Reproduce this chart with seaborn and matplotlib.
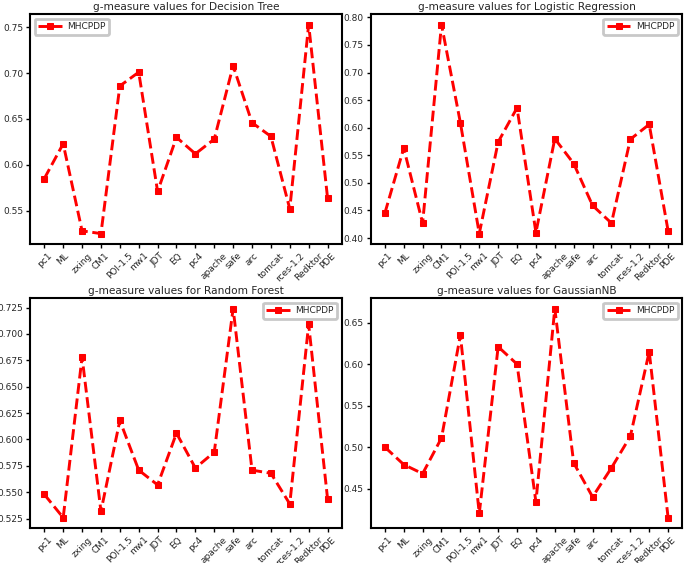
import matplotlib.pyplot as plt
import pandas as pd
import seaborn as sns

# Projects on the x-axis
projects = ['pc1', 'ML', 'zxing', 'CM1', 'POI-1.5', 'mw1', 'JDT', 'EQ', 'pc4',
            'apache', 'safe', 'arc', 'tomcat', 'rces-1.2', 'Redktor', 'PDE']

# g-measure values
dt_vals = [0.585, 0.623, 0.528, 0.525, 0.686, 0.701, 0.571, 0.630, 0.612,
           0.628, 0.708, 0.646, 0.631, 0.552, 0.753, 0.564]
lr_vals = [0.445, 0.563, 0.427, 0.787, 0.609, 0.408, 0.574, 0.636, 0.410,
           0.580, 0.535, 0.459, 0.427, 0.579, 0.606, 0.413]
rf_vals = [0.548, 0.526, 0.678, 0.532, 0.618, 0.571, 0.557, 0.606, 0.573,
           0.588, 0.724, 0.571, 0.568, 0.539, 0.709, 0.544]
nb_vals = [0.500, 0.479, 0.468, 0.511, 0.635, 0.420, 0.621, 0.600, 0.434,
           0.667, 0.481, 0.440, 0.475, 0.513, 0.615, 0.415]

classifiers = ['Decision Tree', 'Logistic Regression', 'Random Forest', 'GaussianNB']
legend_locs = ['upper left', 'upper right', 'upper right', 'upper right']

sns.set_style('ticks')
plt.rcParams['font.family'] = ['DejaVu Sans']

fig, axes = plt.subplots(2, 2, figsize=(6.85, 5.63), dpi=100)
plt.subplots_adjust(left=0.044, right=0.996, top=0.975, bottom=0.062,
                    wspace=0.093, hspace=0.235)

for ax, name, vals, loc in zip(axes.flat, classifiers,
                               [dt_vals, lr_vals, rf_vals, nb_vals], legend_locs):
    df = pd.DataFrame({'project': projects, 'value': vals})
    sns.lineplot(data=df, x='project', y='value', ax=ax, sort=False,
                 color='red', marker='s', markersize=5, markeredgecolor='red',
                 linestyle=(0, (3.7, 1.6)), linewidth=2.1, label='MHCPDP')
    ax.set_title('g-measure values for ' + name, fontsize=7.6, pad=3)
    ax.set_xlabel('')
    ax.set_ylabel('')
    ax.tick_params(axis='both', labelsize=6.5, length=3, width=1, color='black',
                   pad=2)
    for lab in ax.get_xticklabels():
        lab.set_rotation(45)
        lab.set_ha('center')
    for s in ax.spines.values():
        s.set_linewidth(1.5)
        s.set_color('black')
    leg = ax.legend(loc=loc, fontsize=6.5, frameon=True, fancybox=True,
                    handlelength=2.6, borderpad=0.4, handletextpad=0.6)
    leg.get_frame().set_edgecolor('#bbbbbb')
    leg.get_frame().set_linewidth(2)

fig.savefig('out.png', dpi=100)
